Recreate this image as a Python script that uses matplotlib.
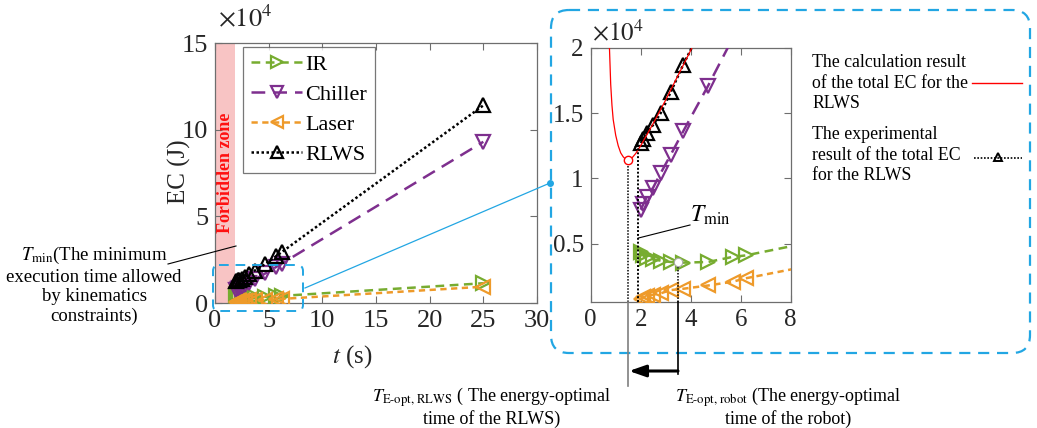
import matplotlib
matplotlib.use("Agg")
import matplotlib.pyplot as plt
from matplotlib.patches import FancyBboxPatch

plt.rcParams['font.family'] = ['Liberation Serif', 'DejaVu Serif']
plt.rcParams['mathtext.fontset'] = 'stix'

# ---------------- data (energy in units of 1e4 J) ----------------
t_s = [2.0, 2.1, 2.25, 2.5, 2.8, 3.2, 3.7, 4.7, 5.7, 6.2, 25.0]
ir_ec = [0.44, 0.41, 0.39, 0.38, 0.37, 0.36, 0.355, 0.36, 0.40, 0.41, 1.14]
chiller_ec = [0.76, 0.80, 0.86, 0.93, 1.04, 1.18, 1.36, 1.71, 2.08, 2.27, 9.3]
laser_ec = [0.08, 0.09, 0.10, 0.11, 0.12, 0.145, 0.155, 0.18, 0.21, 0.235, 0.94]
rlws_ec = [1.27, 1.30, 1.35, 1.41, 1.50, 1.66, 1.87, 2.25, 2.70, 2.93, 11.4]

calc_t = [0.75, 0.8, 0.85, 0.9, 1.0, 1.1, 1.2, 1.3, 1.4, 1.5, 1.6, 1.8, 2.0, 2.5, 3.0, 3.5, 4.0, 4.1]
calc_ec = [2.0, 1.72, 1.56, 1.45, 1.33, 1.25, 1.195, 1.165, 1.145, 1.14, 1.145, 1.19, 1.25, 1.42, 1.6, 1.79, 1.98, 2.02]

t_min = 1.9
t_eopt_rlws = 1.48
ec_eopt_rlws = 1.14
t_eopt_robot = 3.5
ec_eopt_robot = 0.357

main_xticks = [0, 5, 10, 15, 20, 25, 30]
main_yticks = [0, 5, 10, 15]
inset_xticks = [0, 2, 4, 6, 8]
inset_yticks = [0.5, 1, 1.5, 2]

W, H = 1037, 428
fig = plt.figure(figsize=(W / 100, H / 100), dpi=100)

c_ir = '#77AC30'
c_ch = '#7E2F8E'
c_la = '#EE9A2A'
c_rl = '#000000'
blue = '#22A6E3'
tick_col = '#262626'
spine_col = '#6E6E6E'


def fx(px):
    return px / W


def fy(py):
    return 1 - py / H


series = [
    ('IR', ir_ec, c_ir, '>', (0, (3.5, 2.2))),
    ('Chiller', chiller_ec, c_ch, 'v', (0, (5.5, 3.2))),
    ('Laser', laser_ec, c_la, '<', (0, (2.5, 1.8))),
    ('RLWS', rlws_ec, c_rl, '^', (0, (1, 1))),
]


def style_axes(ax, fs):
    for s in ax.spines.values():
        s.set_color(spine_col)
        s.set_linewidth(0.9)
    ax.tick_params(direction='in', top=True, right=True, length=5, width=0.8,
                   color=spine_col, labelsize=fs, labelcolor=tick_col, pad=5)


# ---------------- main axes ----------------
ax = fig.add_axes([fx(215), fy(303), fx(537) - fx(215), fy(43) - fy(303)])
ax.axvspan(0, t_min, color='#F8C4C4', zorder=0, lw=0)
for name, y, c, m, ls in series:
    ax.plot(t_s, y, color=c, linestyle=ls, lw=1.8, marker=m, ms=9.5,
            mfc='none', mec=c, mew=1.6, label=name, zorder=3)
ax.set_xlim(0, 30)
ax.set_ylim(0, 15)
ax.set_xticks(main_xticks)
ax.set_yticks(main_yticks)
style_axes(ax, 19)
ax.text(0.95, 7.5, 'Forbidden zone', rotation=90, color='#FF1010', fontweight='bold',
        fontsize=13, ha='center', va='center', zorder=2)
leg = ax.legend(loc='upper left', bbox_to_anchor=(0.088, 0.985), fontsize=16,
                frameon=True, fancybox=False, edgecolor='#555555', handlelength=2.3,
                handletextpad=0.15, labelspacing=0.42, borderpad=0.35, borderaxespad=0,
                markerscale=0.85)
leg.get_frame().set_linewidth(0.9)

# ---------------- inset axes ----------------
ai = fig.add_axes([fx(590.7), fy(301.7), fx(790.7) - fx(590.7), fy(47.7) - fy(301.7)])
for name, y, c, m, ls in series:
    ai.plot(t_s, y, color=c, linestyle=ls, lw=1.8, marker=m, ms=9.5,
            mfc='none', mec=c, mew=1.6, zorder=3)
ai.plot(calc_t, calc_ec, color='#FF0000', lw=0.9, zorder=4)
ai.set_xlim(0, 8)
ai.set_ylim(0.056, 2)
ai.set_xticks(inset_xticks)
ai.set_yticks(inset_yticks)
ai.set_yticklabels(['0.5', '1', '1.5', '2'])
style_axes(ai, 18)
ai.plot([t_eopt_rlws, t_eopt_rlws], [0.056, ec_eopt_rlws], color='k', ls=(0, (1, 1)), lw=1.1, zorder=5)
ai.plot([t_min, t_min], [0.056, rlws_ec[0]], color='k', ls=(0, (1, 1)), lw=1.4, zorder=5)
ai.plot([t_eopt_robot, t_eopt_robot], [0.056, ec_eopt_robot], color='k', ls=(0, (1, 1)), lw=1.1, zorder=5)
ai.plot([t_eopt_rlws], [ec_eopt_rlws], marker='o', ms=6, mfc='white', mec='#FF0000', mew=1, zorder=6)
ai.plot([t_eopt_robot], [ec_eopt_robot], marker='o', ms=6, mfc='white', mec='#AAAAAA', mew=0.8, zorder=6)

# ---------------- overlay (pixel coordinates) ----------------
ov = fig.add_axes([0, 0, 1, 1], zorder=10)
ov.set_xlim(0, W)
ov.set_ylim(H, 0)
ov.axis('off')
ov.patch.set_alpha(0)

dash = (0, (5, 3.5))
ov.add_patch(FancyBboxPatch((551, 10), 479, 343, boxstyle='round,pad=0,rounding_size=18',
                            fill=False, ec=blue, lw=1.6, ls=dash))
ov.add_patch(FancyBboxPatch((213, 265), 90, 46, boxstyle='round,pad=0,rounding_size=6',
                            fill=False, ec=blue, lw=1.4, ls=dash))
ov.plot([305, 550], [288, 183], color=blue, lw=0.9)
ov.plot([550], [183], marker='o', ms=4, color=blue)

# multipliers and axis labels
ov.text(218, 18, r'$\times10^4$', fontsize=19, color=tick_col, ha='left', va='center')
ov.text(592, 32, r'$\times10^4$', fontsize=18, color=tick_col, ha='left', va='center')
ov.text(179, 172, 'EC (J)', fontsize=18, color=tick_col, rotation=90, ha='center', va='center')
ov.text(352, 357, r'$t$ (s)', fontsize=18, color=tick_col, ha='center', va='center')

# left annotation
ov.text(94, 285, r'$T_{\rm min}$(The minimum' + '\nexecution time allowed\nby kinematics\nconstraints)',
        fontsize=13.5, ha='center', va='center', multialignment='center', linespacing=1.2)
ov.plot([168, 236], [264, 246], color='k', lw=0.8)

# Tmin label in inset
ov.text(690, 215, r'$T_{\rm min}$', fontsize=17, ha='left', va='center')
ov.plot([638.5, 690], [238, 225], color='k', lw=0.8)

# lines below inset and arrow
ov.plot([627.7, 627.7], [302, 386], color='#7F7F7F', lw=1.2)
ov.plot([678.3, 678.3], [302, 374], color='k', lw=1.2)
ov.annotate('', xy=(629, 371), xytext=(678, 371),
            arrowprops=dict(arrowstyle='-|>,head_length=1.0,head_width=0.35', color='k', lw=2.2,
                            shrinkA=0, shrinkB=0))

ov.text(492, 407, r'$T_{\rm E\text{-}opt,\,RLWS}$' + ' ( The energy-optimal\ntime of the RLWS)',
        fontsize=13, ha='center', va='center', multialignment='center', linespacing=1.08)
ov.text(788, 407, r'$T_{\rm E\text{-}opt,\,robot}$' + ' (The energy-optimal\ntime of the robot)',
        fontsize=13, ha='center', va='center', multialignment='center', linespacing=1.08)

# right legend
ov.text(812, 83, 'The calculation result\nof the total EC for the\nRLWS', fontsize=12.8,
        ha='left', va='center', linespacing=1.3)
ov.plot([972, 1022], [83, 83], color='#FF0000', lw=1.0)
ov.text(812, 155, 'The experimental\nresult of the total EC\nfor the RLWS', fontsize=12.8,
        ha='left', va='center', linespacing=1.3)
ov.plot([974, 1022], [158, 158], color='k', ls=(0, (1, 1)), lw=1.2)
ov.plot([998], [157], marker='^', ms=6, mfc='none', mec='k', mew=1.4)

fig.savefig('out.png', dpi=100)
